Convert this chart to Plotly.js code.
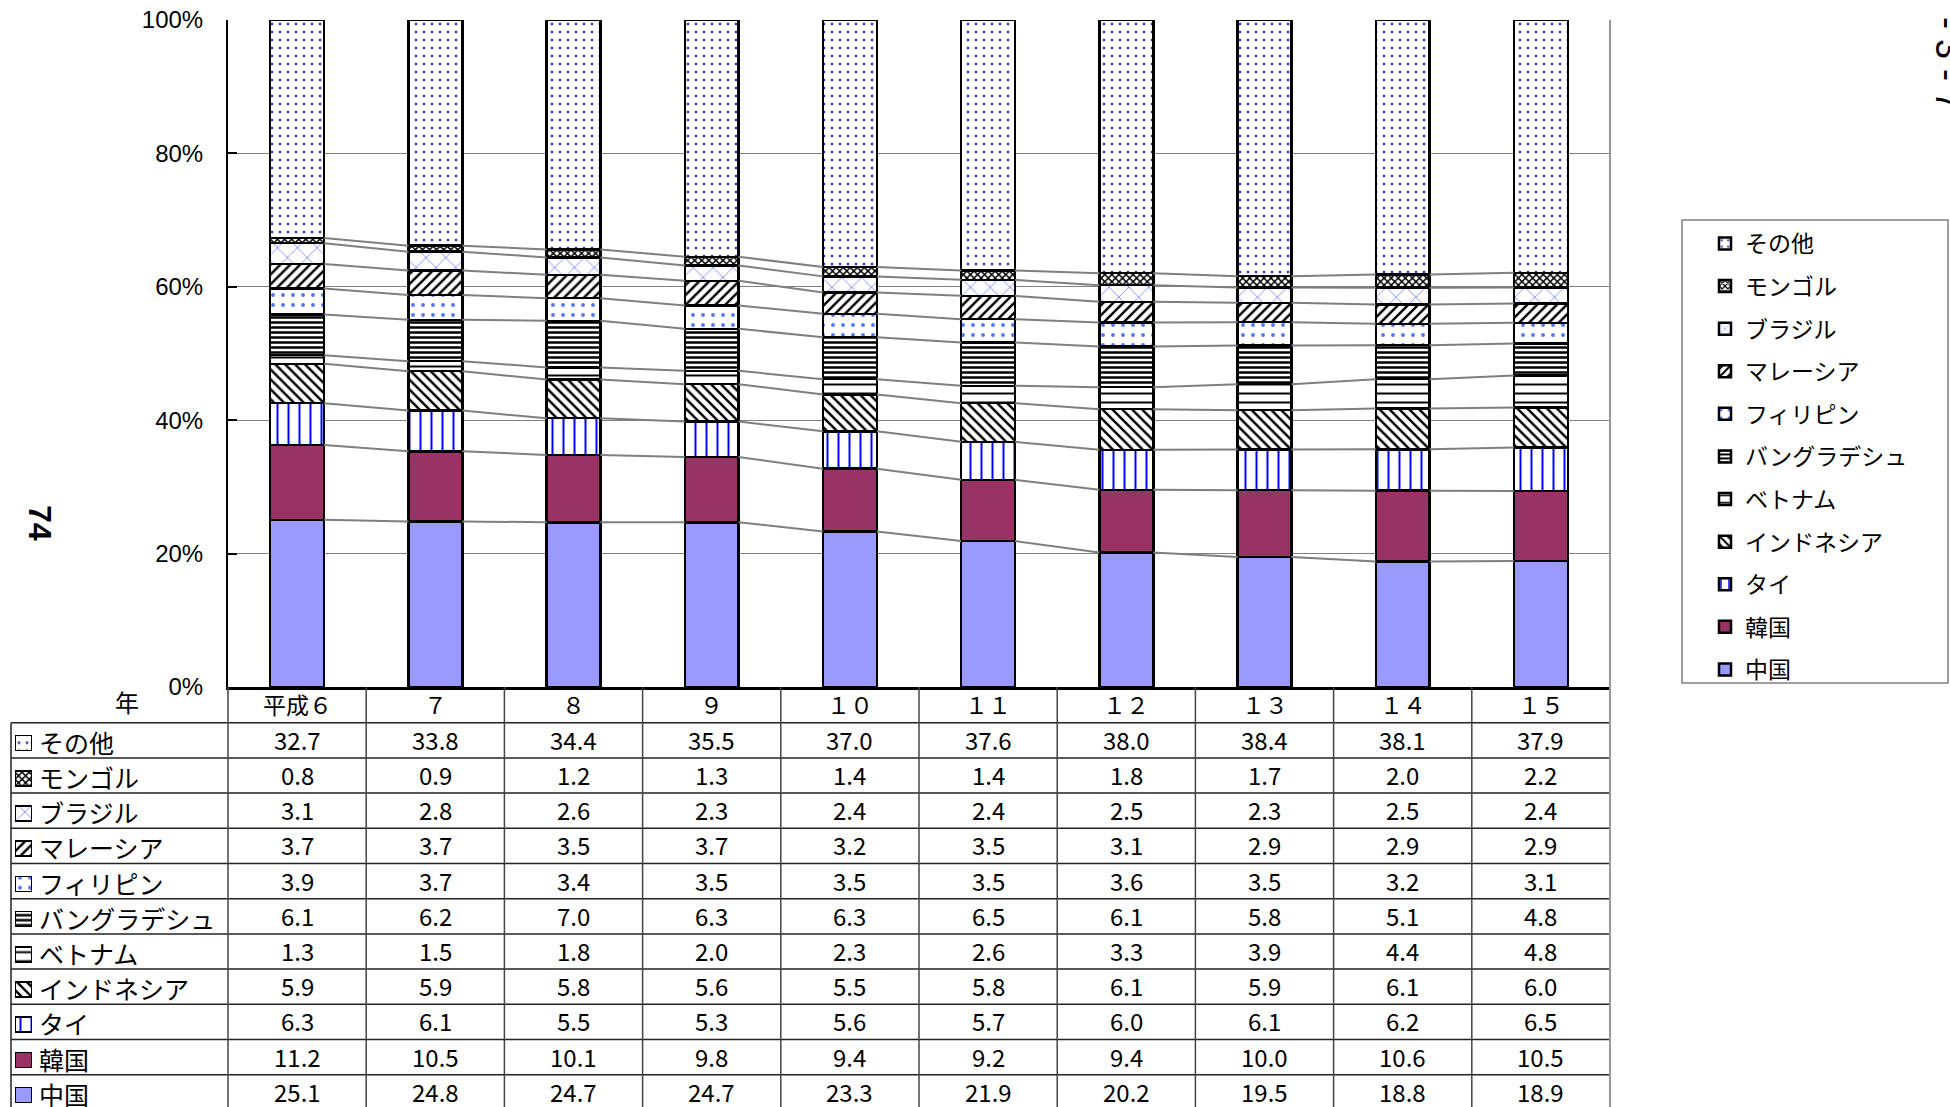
<!DOCTYPE html>
<html><head><meta charset="utf-8">
<script src="https://cdn.plot.ly/plotly-3.0.1.min.js"></script>
<style>html,body{margin:0;padding:0;background:#fff;} #chart{width:1950px;height:1107px;}</style>
</head><body><div id="chart"></div>
<script>
// ---- data ----
const years = ["平成６","７","８","９","１０","１１","１２","１３","１４","１５"];
const china       = [25.1,24.8,24.7,24.7,23.3,21.9,20.2,19.5,18.8,18.9];
const korea       = [11.2,10.5,10.1,9.8,9.4,9.2,9.4,10.0,10.6,10.5];
const thailand    = [6.3,6.1,5.5,5.3,5.6,5.7,6.0,6.1,6.2,6.5];
const indonesia   = [5.9,5.9,5.8,5.6,5.5,5.8,6.1,5.9,6.1,6.0];
const vietnam     = [1.3,1.5,1.8,2.0,2.3,2.6,3.3,3.9,4.4,4.8];
const bangladesh  = [6.1,6.2,7.0,6.3,6.3,6.5,6.1,5.8,5.1,4.8];
const philippines = [3.9,3.7,3.4,3.5,3.5,3.5,3.6,3.5,3.2,3.1];
const malaysia    = [3.7,3.7,3.5,3.7,3.2,3.5,3.1,2.9,2.9,2.9];
const brazil      = [3.1,2.8,2.6,2.3,2.4,2.4,2.5,2.3,2.5,2.4];
const mongolia    = [0.8,0.9,1.2,1.3,1.4,1.4,1.8,1.7,2.0,2.2];
const others      = [32.7,33.8,34.4,35.5,37.0,37.6,38.0,38.4,38.1,37.9];
const seriesNames = ["中国","韓国","タイ","インドネシア","ベトナム","バングラデシュ","フィリピン","マレーシア","ブラジル","モンゴル","その他"];
const seriesValues = [china,korea,thailand,indonesia,vietnam,bangladesh,philippines,malaysia,brazil,mongolia,others];
const yTickVals = [0,20,40,60,80,100];
const yTickText = ["0%","20%","40%","60%","80%","100%"];
const rowLabel = "年";
const pageNo = "74";
const sideText = "- 3 - 7";

// ---- styles ----
const W = 1950, H = 1107;
const px = X => X / W, py = Y => (H - Y) / H;
const JP = "Noto Sans CJK JP";
const SANS = "Liberation Sans, Arial";
const BARGAP = 0.61, HALF = (1 - BARGAP) / 2;
const PL = 228, PR = 1610, PT = 20, PB = 687;
const colW = (PR - PL) / years.length;
const ROW0 = 722.7, ROWH = 35.2;
const W_ = '#ffffff';
const styles = [
  {color:'#9999ff'},
  {color:'#993366'},
  {color:W_, pattern:{shape:'|', fgcolor:'#0000ff', bgcolor:W_, size:11, solidity:0.18}},
  {color:W_, pattern:{shape:'\\', fgcolor:'#000000', bgcolor:W_, size:7, solidity:0.35}},
  {color:W_, pattern:{shape:'-', fgcolor:'#000000', bgcolor:W_, size:9, solidity:0.22}},
  {color:W_, pattern:{shape:'-', fgcolor:'#000000', bgcolor:W_, size:5, solidity:0.5}},
  {color:W_, pattern:{shape:'.', fgcolor:'#5577ff', bgcolor:W_, size:10, solidity:0.12}},
  {color:W_, pattern:{shape:'/', fgcolor:'#000000', bgcolor:W_, size:7, solidity:0.35}},
  {color:W_, pattern:{shape:'x', fgcolor:'#3344ff', bgcolor:W_, size:14, solidity:0.08}},
  {color:W_, pattern:{shape:'x', fgcolor:'#000000', bgcolor:W_, size:5, solidity:0.5}},
  {color:W_, pattern:{shape:'.', fgcolor:'#4444bb', bgcolor:W_, size:8, solidity:0.11}}
];

const xIdx = years.map((_, i) => i);
const traces = [];
seriesValues.forEach((vals, s) => {
  traces.push({
    type:'bar', name: seriesNames[s], x: xIdx, y: vals,
    legendgroup: seriesNames[s], legendrank: 100 - s,
    marker: Object.assign({}, styles[s], {line:{color:'#000000', width:2.5}}),
    hoverinfo:'skip'
  });
});

// series lines between bars
const totals = xIdx.map(i => seriesValues.reduce((a, v) => a + v[i], 0));
const cum = [];
let run = xIdx.map(() => 0);
for (let s = 0; s < seriesValues.length - 1; s++) {
  run = run.map((r, i) => r + seriesValues[s][i]);
  cum.push(run.map((r, i) => r / totals[i] * 100));
}
const lx = [], ly = [];
cum.forEach(c => {
  for (let i = 0; i < years.length - 1; i++) {
    lx.push(i + HALF, i + 1 - HALF, null);
    ly.push(c[i], c[i + 1], null);
  }
});
traces.push({type:'scatter', mode:'lines', x: lx, y: ly, line:{color:'#7f7f7f', width:2},
  showlegend:false, hoverinfo:'skip', connectgaps:false});

// table row icons (rows: その他 ... 中国)
const nRows = seriesNames.length;
for (let k = 0; k < nRows; k++) {
  const s = nRows - 1 - k;
  traces.push({
    type:'bar', orientation:'h', x:[1], y:[k + 0.58], width:[15 / ROWH],
    xaxis:'x2', yaxis:'y2', showlegend:false, hoverinfo:'skip',
    marker: Object.assign({}, styles[s], {line:{color:'#000000', width:1.5}})
  });
}

// ---- annotations & shapes ----
const annotations = [];
const shapes = [];
const lineC = '#222222';
years.forEach((y, i) => {
  annotations.push({xref:'x', yref:'paper', x:i, y:py(704), text:y, showarrow:false,
    xanchor:'center', yanchor:'middle', font:{family:JP, size:23, color:'#000'}});
});
for (let k = 0; k < nRows; k++) {
  const s = nRows - 1 - k;
  const yc = ROW0 + ROWH * (k + 0.5);
  annotations.push({xref:'paper', yref:'paper', x:px(37), y:py(yc + 1.5), text:seriesNames[s], showarrow:false,
    xanchor:'left', yanchor:'middle', font:{family:JP, size:25, color:'#000'}});
  seriesValues[s].forEach((v, i) => {
    annotations.push({xref:'x', yref:'paper', x:i, y:py(yc - 1), text:v.toFixed(1), showarrow:false,
      xanchor:'center', yanchor:'middle', font:{family:JP, size:24, color:'#000'}});
  });
}
annotations.push({xref:'paper', yref:'paper', x:px(127), y:py(701), text:rowLabel, showarrow:false,
  xanchor:'center', yanchor:'middle', font:{family:JP, size:24, color:'#000'}});
annotations.push({xref:'paper', yref:'paper', x:px(40), y:py(523), text:'<b>'+pageNo+'</b>', showarrow:false,
  xanchor:'center', yanchor:'middle', textangle:90, font:{family:SANS, size:32, color:'#000'}});
annotations.push({xref:'paper', yref:'paper', x:px(1949), y:py(64), text:sideText, showarrow:false,
  xanchor:'center', yanchor:'middle', textangle:90, font:{family:SANS, size:36, color:'#000'}});

// table lines
for (let k = 0; k <= nRows; k++) {
  const Y = ROW0 + ROWH * k;
  shapes.push({type:'line', xref:'paper', yref:'paper', x0:px(11), x1:px(PR), y0:py(Y), y1:py(Y),
    line:{color:lineC, width:1.5}});
}
for (let c = 0; c <= years.length; c++) {
  const X = PL + colW * c;
  shapes.push({type:'line', xref:'paper', yref:'paper', x0:px(X), x1:px(X), y0:py(PB), y1:0,
    line:{color: c === years.length ? '#999999' : '#444444', width: c === years.length ? 2 : 1.5}});
}
shapes.push({type:'line', xref:'paper', yref:'paper', x0:px(11), x1:px(11), y0:py(ROW0), y1:0,
  line:{color:lineC, width:1.5}});
// plot right border
shapes.push({type:'line', xref:'paper', yref:'paper', x0:px(PR), x1:px(PR), y0:py(PT), y1:py(PB),
  line:{color:'#999999', width:2}});
// legend box
shapes.push({type:'rect', xref:'paper', yref:'paper', x0:px(1682), x1:px(1948), y0:py(220), y1:py(683),
  line:{color:'#808080', width:1.5}, fillcolor:'rgba(0,0,0,0)'});

const layout = {
  width: W, height: H,
  margin:{l:0, r:0, t:0, b:0, pad:0},
  paper_bgcolor:'#ffffff', plot_bgcolor:'#ffffff',
  barmode:'stack', barnorm:'percent', bargap: BARGAP,
  showlegend:true,
  legend:{x:px(1705), y:py(222), xanchor:'left', yanchor:'top', bgcolor:'rgba(0,0,0,0)', borderwidth:0,
    traceorder:'grouped', tracegroupgap:9.7, font:{family:JP, size:23, color:'#000'}},
  xaxis:{domain:[px(PL), px(PR)], range:[-0.5, years.length - 0.5], showline:true, linecolor:'#000', linewidth:2.5,
    showgrid:false, zeroline:false, showticklabels:false, ticks:'', fixedrange:true},
  yaxis:{domain:[py(PB), py(PT)], range:[0,100], tickvals:yTickVals, ticktext:yTickText,
    showline:true, linecolor:'#000', linewidth:2, ticks:'inside', ticklen:9, tickwidth:2, tickcolor:'#000',
    showgrid:true, gridcolor:'#808080', gridwidth:1, zeroline:false, ticklabelstandoff:18,
    tickfont:{family:SANS, size:24, color:'#000'}, fixedrange:true},
  xaxis2:{domain:[px(15), px(32)], range:[0,100], anchor:'y2', visible:false, fixedrange:true},
  yaxis2:{domain:[0, py(ROW0)], range:[(H - ROW0) / ROWH, 0], anchor:'x2', visible:false, fixedrange:true},
  annotations: annotations,
  shapes: shapes
};
Plotly.newPlot('chart', traces, layout, {staticPlot:true});
</script>
</body></html>
